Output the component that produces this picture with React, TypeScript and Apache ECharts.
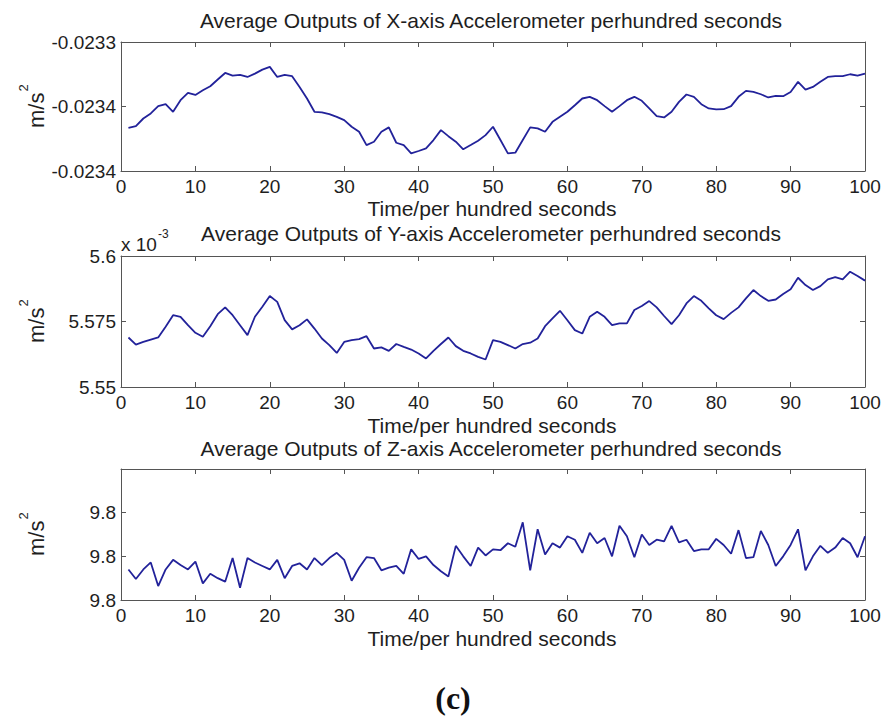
import React, { useEffect, useRef } from "react";
import * as echarts from "echarts";

// ---------- data ----------
const TIME: number[] = Array.from({ length: 100 }, (_, i) => i + 1);

// X-axis accelerometer (m/s^2)
const X_ACC: number[] = [
  -0.0233665, -0.0233652, -0.0233593, -0.0233554, -0.0233497, -0.0233482, -0.0233541, -0.0233451, -0.0233394, -0.023341,
  -0.0233374, -0.0233343, -0.0233291, -0.023324, -0.023326, -0.0233255, -0.0233271, -0.0233245, -0.0233214, -0.0233193,
  -0.0233271, -0.0233255, -0.0233265, -0.0233348, -0.0233438, -0.0233541, -0.0233546, -0.0233559, -0.023358, -0.0233606,
  -0.0233657, -0.0233696, -0.0233799, -0.0233773, -0.0233696, -0.0233662, -0.0233781, -0.0233799, -0.0233863, -0.0233845,
  -0.0233825, -0.023376, -0.0233683, -0.023373, -0.0233773, -0.0233832, -0.0233799, -0.0233765, -0.0233722, -0.0233657,
  -0.023376, -0.0233863, -0.0233858, -0.023376, -0.0233662, -0.023367, -0.0233696, -0.0233619, -0.023358, -0.0233541,
  -0.023349, -0.0233438, -0.0233425, -0.0233451, -0.0233497, -0.0233541, -0.0233497, -0.0233451, -0.0233425, -0.0233456,
  -0.0233515, -0.0233575, -0.0233585, -0.0233541, -0.0233464, -0.0233407, -0.0233425, -0.0233482, -0.0233515, -0.0233523,
  -0.0233521, -0.0233497, -0.0233425, -0.0233379, -0.0233387, -0.0233405, -0.023343, -0.0233418, -0.023342, -0.0233387,
  -0.0233309, -0.0233369, -0.0233348, -0.0233309, -0.0233271, -0.0233265, -0.0233265, -0.023325, -0.023326, -0.0233245,
];

// Y-axis accelerometer (x 10^-3 m/s^2)
const Y_ACC: number[] = [
  5.5689, 5.5662, 5.5672, 5.5681, 5.5689, 5.573, 5.5774, 5.5768, 5.5736, 5.5707,
  5.5692, 5.5732, 5.5778, 5.5804, 5.5774, 5.5736, 5.5698, 5.5768, 5.5806, 5.5847,
  5.5825, 5.5755, 5.572, 5.5736, 5.5758, 5.5723, 5.5685, 5.566, 5.563, 5.5672,
  5.5679, 5.5683, 5.5694, 5.5647, 5.5651, 5.5638, 5.5664, 5.5653, 5.5643, 5.5628,
  5.5609, 5.5638, 5.5664, 5.5689, 5.5656, 5.5638, 5.5628, 5.5615, 5.5605, 5.5679,
  5.5672, 5.566, 5.5647, 5.5664, 5.5669, 5.5685, 5.5732, 5.5762, 5.5791, 5.5755,
  5.5717, 5.5704, 5.5768, 5.5787, 5.5768, 5.5736, 5.5743, 5.5743, 5.5794, 5.5809,
  5.5828, 5.5804, 5.5771, 5.574, 5.5774, 5.5819, 5.5847, 5.5829, 5.58, 5.5774,
  5.5759, 5.5783, 5.5804, 5.5838, 5.587, 5.5847, 5.5829, 5.5834, 5.5855, 5.5873,
  5.5917, 5.5889, 5.587, 5.5885, 5.5911, 5.5919, 5.5911, 5.594, 5.5924, 5.5906,
];

// Z-axis accelerometer (m/s^2)
const Z_ACC: number[] = [
  9.79985, 9.79974, 9.79985, 9.79993, 9.79966, 9.79985, 9.79996, 9.7999, 9.79985, 9.79994,
  9.79969, 9.7998, 9.79975, 9.79971, 9.79998, 9.79964, 9.79998, 9.79993, 9.79989, 9.79985,
  9.79996, 9.79975, 9.79989, 9.79992, 9.79985, 9.79998, 9.7999, 9.79998, 9.80004, 9.79996,
  9.79972, 9.79987, 9.79999, 9.79998, 9.79984, 9.79987, 9.79989, 9.7998, 9.80008, 9.79997,
  9.8, 9.7999, 9.79983, 9.79977, 9.80012, 9.8, 9.79989, 9.8001, 9.80001, 9.80008,
  9.80007, 9.80015, 9.80011, 9.80039, 9.79984, 9.80031, 9.80002, 9.80015, 9.8001, 9.80023,
  9.80019, 9.80004, 9.80027, 9.80015, 9.80021, 9.8, 9.80035, 9.80023, 9.79999, 9.80025,
  9.80013, 9.80019, 9.80017, 9.80035, 9.80016, 9.80019, 9.80006, 9.80008, 9.80008, 9.8002,
  9.80013, 9.80003, 9.8003, 9.79998, 9.79999, 9.80029, 9.80013, 9.79989, 9.8, 9.80013,
  9.80031, 9.79984, 9.8, 9.80012, 9.80004, 9.8001, 9.80021, 9.80015, 9.79999, 9.80023,
];

const X_TICKS = { min: 0, max: 100, step: 10 };
const Y1_RANGE = { min: -0.0234, max: -0.0233, step: 0.00005 };
const Y1_TICK_LABELS = ["-0.0234", "-0.0234", "-0.0233"];
const Y2_RANGE = { min: 5.55, max: 5.6, step: 0.025 };
const Y2_TICK_LABELS = ["5.55", "5.575", "5.6"];
const Y3_RANGE = { min: 9.7995, max: 9.801, step: 0.0005 };
const Y3_TICK_LABELS = ["9.8", "9.8", "9.8", ""];

const TITLES = [
  "Average Outputs of X-axis Accelerometer perhundred seconds",
  "Average Outputs of Y-axis Accelerometer perhundred seconds",
  "Average Outputs of Z-axis Accelerometer perhundred seconds",
];
const X_NAME = "Time/per hundred seconds";
const Y_NAME = "m/s";
const Y_NAME_SUP = "2";
const SUBFIG_LABEL = "(c)";

// ---------- layout ----------
const W = 888;
const H = 717;
const PLOT_LEFT = 121;
const PLOT_WIDTH = 744;
const PANELS = [
  { top: 42, height: 129, titleY: 20, nameY: 208 },
  { top: 256, height: 131, titleY: 233, nameY: 425 },
  { top: 469, height: 131, titleY: 448, nameY: 638 },
];

const FONT = "'Liberation Sans', Arial, Helvetica, sans-serif";
const AXIS_COLOR = "#555555";
const TEXT_COLOR = "#1e1e1e";
const LINE_COLOR = "#22229a";

function labelFrom(labels: string[], range: { min: number; step: number }) {
  return (v: number) => {
    const i = Math.round((v - range.min) / range.step);
    return labels[i] ?? "";
  };
}

export default function App() {
  const ref = useRef<HTMLDivElement>(null);

  useEffect(() => {
    if (!ref.current) return;
    const chart = echarts.init(ref.current, undefined, { renderer: "svg" });

    const ranges = [Y1_RANGE, Y2_RANGE, Y3_RANGE];
    const tickLabels = [Y1_TICK_LABELS, Y2_TICK_LABELS, Y3_TICK_LABELS];
    const datasets = [X_ACC, Y_ACC, Z_ACC];

    const grids = PANELS.map((p) => ({
      left: PLOT_LEFT,
      top: p.top,
      width: PLOT_WIDTH,
      height: p.height,
      show: false,
    }));

    const xAxes: any[] = [];
    const yAxes: any[] = [];
    PANELS.forEach((_, gi) => {
      ["bottom", "top"].forEach((pos) => {
        xAxes.push({
          gridIndex: gi,
          type: "value",
          position: pos,
          min: X_TICKS.min,
          max: X_TICKS.max,
          interval: X_TICKS.step,
          axisLine: { show: true, onZero: false, lineStyle: { color: AXIS_COLOR, width: 1 } },
          axisTick: { show: true, inside: true, length: 5, lineStyle: { color: AXIS_COLOR } },
          axisLabel: {
            show: pos === "bottom",
            margin: 6,
            color: TEXT_COLOR,
            fontSize: 19,
            fontFamily: FONT,
            showMinLabel: true,
            showMaxLabel: true,
          },
          splitLine: { show: false },
        });
      });
      ["left", "right"].forEach((pos) => {
        const r = ranges[gi];
        yAxes.push({
          gridIndex: gi,
          type: "value",
          position: pos,
          min: r.min,
          max: r.max,
          interval: r.step,
          axisLine: { show: true, onZero: false, lineStyle: { color: AXIS_COLOR, width: 1 } },
          axisTick: { show: true, inside: true, length: 5, lineStyle: { color: AXIS_COLOR } },
          axisLabel: {
            show: pos === "left",
            margin: 5,
            color: TEXT_COLOR,
            fontSize: 19,
            fontFamily: FONT,
            showMinLabel: true,
            showMaxLabel: true,
            formatter: labelFrom(tickLabels[gi], r),
          },
          splitLine: { show: false },
        });
      });
    });

    const series = datasets.map((vals, gi) => ({
      type: "line",
      xAxisIndex: gi * 2,
      yAxisIndex: gi * 2,
      data: TIME.map((t, i) => [t, vals[i]]),
      showSymbol: false,
      symbol: "none",
      lineStyle: { color: LINE_COLOR, width: 1.8 },
      silent: true,
    }));

    const centerX = PLOT_LEFT + PLOT_WIDTH / 2;
    const graphics: any[] = [];
    PANELS.forEach((p, gi) => {
      graphics.push({
        type: "text",
        x: centerX - 2,
        y: p.titleY,
        style: {
          text: TITLES[gi],
          fontSize: 21,
          fontFamily: FONT,
          fill: TEXT_COLOR,
          textAlign: "center",
          textVerticalAlign: "middle",
        },
      });
      graphics.push({
        type: "text",
        x: centerX - 1,
        y: p.nameY,
        style: {
          text: X_NAME,
          fontSize: 21,
          fontFamily: FONT,
          fill: TEXT_COLOR,
          textAlign: "center",
          textVerticalAlign: "middle",
        },
      });
      graphics.push({
        type: "group",
        x: 36,
        y: p.top + p.height / 2 - 6,
        rotation: Math.PI / 2,
        children: [
          {
            type: "text",
            x: 8,
            y: 0,
            style: {
              text: Y_NAME,
              fontSize: 22,
              fontFamily: FONT,
              fill: TEXT_COLOR,
              textAlign: "right",
              textVerticalAlign: "middle",
            },
          },
          {
            type: "text",
            x: 9,
            y: -6,
            style: {
              text: Y_NAME_SUP,
              fontSize: 13,
              fontFamily: FONT,
              fill: TEXT_COLOR,
              textAlign: "left",
              textVerticalAlign: "bottom",
            },
          },
        ],
      });
    });
    // exponent label of the second panel
    graphics.push({
      type: "text",
      x: PLOT_LEFT,
      y: 244,
      style: {
        text: "x 10",
        fontSize: 19,
        fontFamily: FONT,
        fill: TEXT_COLOR,
        textAlign: "left",
        textVerticalAlign: "middle",
      },
    });
    graphics.push({
      type: "text",
      x: 158,
      y: 234,
      style: {
        text: "-3",
        fontSize: 12,
        fontFamily: FONT,
        fill: TEXT_COLOR,
        textAlign: "left",
        textVerticalAlign: "middle",
      },
    });
    graphics.push({
      type: "text",
      x: 453,
      y: 698,
      style: {
        text: SUBFIG_LABEL,
        fontSize: 32,
        fontWeight: "bold",
        fontFamily: "'Liberation Serif', 'DejaVu Serif', serif",
        fill: "#111",
        textAlign: "center",
        textVerticalAlign: "middle",
      },
    });

    chart.setOption({
      animation: false,
      backgroundColor: "#ffffff",
      grid: grids,
      xAxis: xAxes,
      yAxis: yAxes,
      series,
      graphic: graphics,
    });

    return () => chart.dispose();
  }, []);

  return (
    <div
      ref={ref}
      style={{ position: "fixed", left: 0, top: 0, width: W, height: H, background: "#fff" }}
    />
  );
}
